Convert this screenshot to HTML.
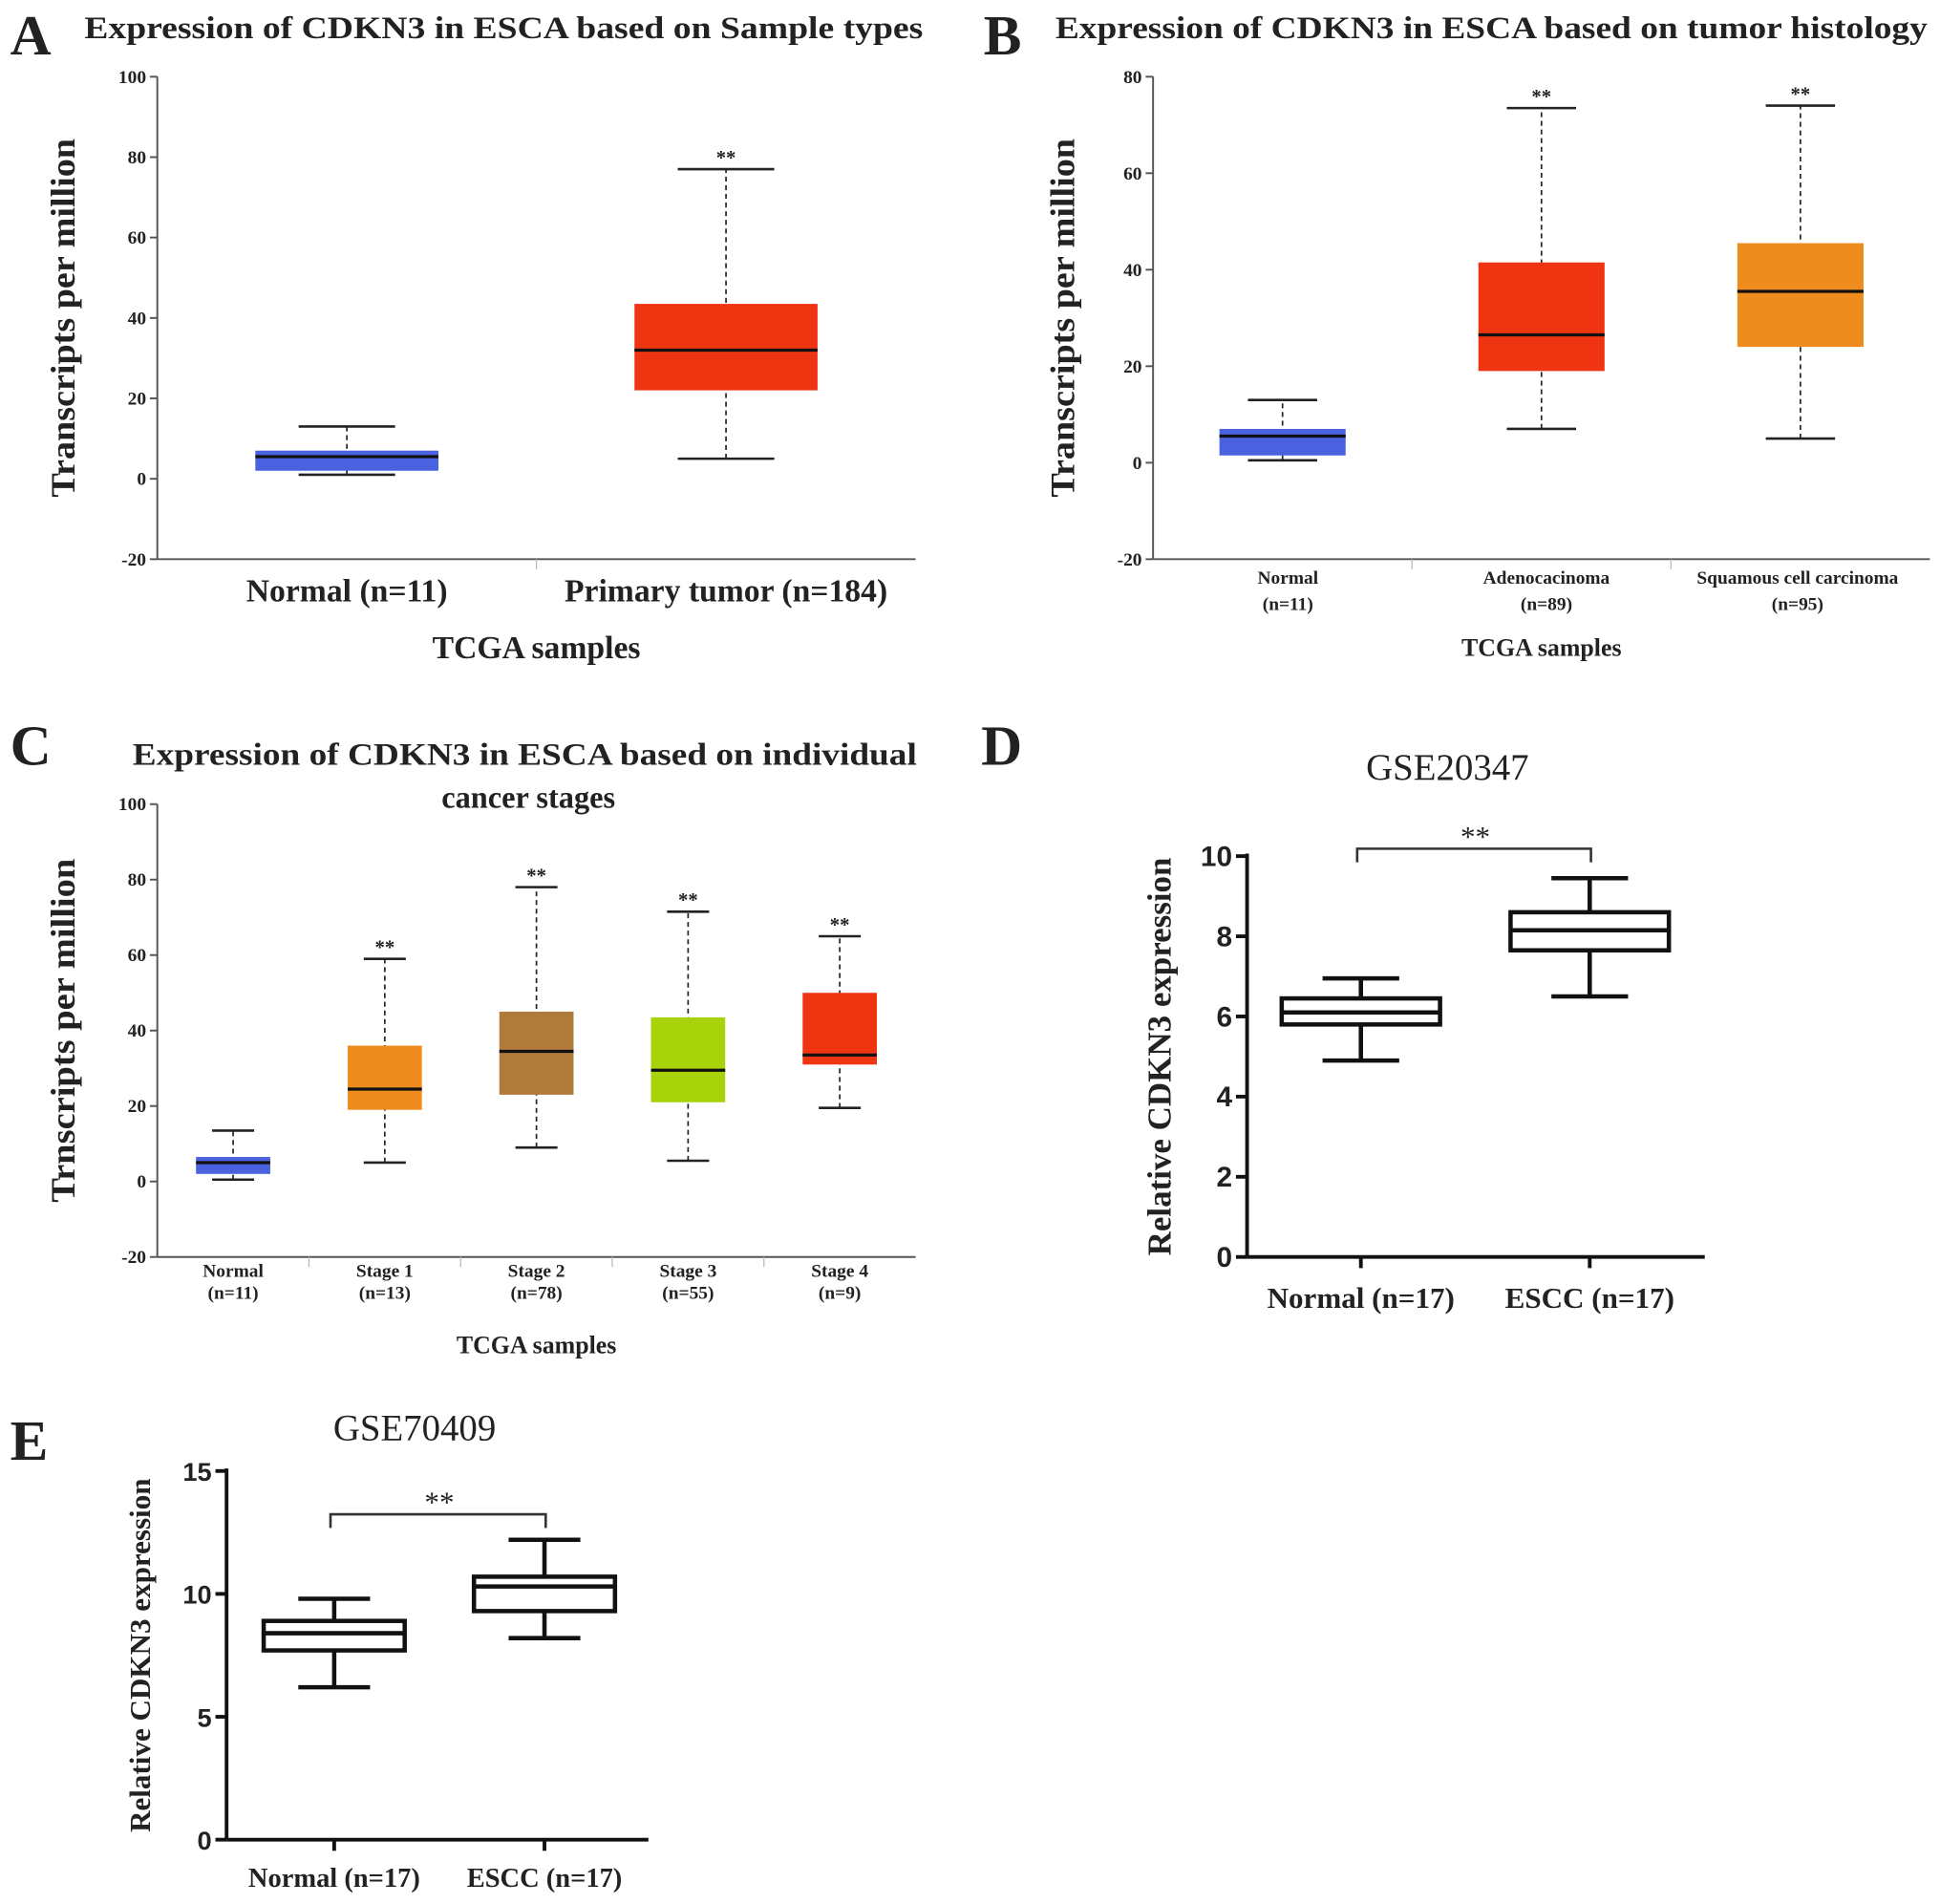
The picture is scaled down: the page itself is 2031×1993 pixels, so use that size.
<!DOCTYPE html>
<html><head><meta charset="utf-8"><title>CDKN3 expression</title>
<style>html,body{margin:0;padding:0;background:#fff}svg{display:block}
text{font-family:"Liberation Serif",serif;font-weight:bold;fill:#222}</style></head>
<body>
<svg id="fig" width="2031" height="1993" viewBox="0 0 1568 1539" xmlns="http://www.w3.org/2000/svg">
<text x="8" y="44" font-size="46">A</text>
<text x="68" y="31" font-size="25" textLength="678" lengthAdjust="spacingAndGlyphs">Expression of  CDKN3 in ESCA based on Sample types</text>
<text x="795" y="44" font-size="46">B</text>
<text x="853" y="31" font-size="25" textLength="705" lengthAdjust="spacingAndGlyphs">Expression of CDKN3 in ESCA based on tumor histology</text>
<text x="8" y="618" font-size="46">C</text>
<text x="107" y="618" font-size="25" textLength="634" lengthAdjust="spacingAndGlyphs">Expression of CDKN3 in ESCA based on individual</text>
<text x="427" y="653" font-size="25" text-anchor="middle">cancer stages</text>
<text x="793" y="618" font-size="46">D</text>
<text x="1170" y="630" font-size="30" text-anchor="middle" style="font-weight:normal" fill="#333">GSE20347</text>
<text x="8" y="1180" font-size="46">E</text>
<text x="335" y="1164" font-size="30" text-anchor="middle" style="font-weight:normal">GSE70409</text>
</svg>
<script>
// ---- data ----
const catsA = ["Normal (n=11)", "Primary tumor (n=184)"];
const statsA = [[1,2,5.5,7,13],[5,22,32,43.5,77]];
const colorsA = ["#4a62e0","#ef3412"];
const ticksA = [-20,0,20,40,60,80,100];

const catsB = [["Normal","(n=11)"],["Adenocacinoma","(n=89)"],["Squamous cell carcinoma","(n=95)"]];
const statsB = [[0.5,1.5,5.5,7,13],[7,19,26.5,41.5,73.5],[5,24,35.5,45.5,74]];
const colorsB = ["#4a62e0","#ef3412","#ee8c1e"];
const ticksB = [-20,0,20,40,60,80];

const catsC = [["Normal","(n=11)"],["Stage 1","(n=13)"],["Stage 2","(n=78)"],["Stage 3","(n=55)"],["Stage 4","(n=9)"]];
const statsC = [[0.5,2,5,6.5,13.5],[5,19,24.5,36,59],[9,23,34.5,45,78],[5.5,21,29.5,43.5,71.5],[19.5,31,33.5,50,65]];
const colorsC = ["#4a62e0","#ee8c1e","#b07a3a","#a8d20a","#ef3412"];
const ticksC = [-20,0,20,40,60,80,100];

const catsD = ["Normal (n=17)", "ESCC (n=17)"];
const statsD = [[4.9,5.8,6.1,6.45,6.95],[6.5,7.65,8.15,8.6,9.45]];
const ticksD = [0,2,4,6,8,10];

const catsE = ["Normal (n=17)", "ESCC (n=17)"];
const statsE = [[6.2,7.7,8.4,8.9,9.8],[8.2,9.3,10.3,10.7,12.2]];
const ticksE = [0,5,10,15];

const NS="http://www.w3.org/2000/svg";
const svg=document.getElementById('fig');
function el(tag,attrs,parent){const e=document.createElementNS(NS,tag);for(const k in attrs)e.setAttribute(k,attrs[k]);(parent||svg).appendChild(e);return e;}

function tcga(o){
  const g=el('g',{});
  
  
  const y=v=>o.y0+(v-o.min)/(o.max-o.min)*(o.y1-o.y0);
  const n=o.cats.length, bw=(o.x1-o.ax)/n;
  const cx=i=>o.ax+bw*(i+0.5)+(o.shift||0);
  el('line',{x1:o.ax,y1:o.y1,x2:o.ax,y2:o.y0,stroke:'#555','stroke-width':1.5},g);
  el('line',{x1:o.ax,y1:o.y0,x2:o.x1,y2:o.y0,stroke:'#555','stroke-width':1.5},g);
  o.ticks.forEach(t=>{
    el('line',{x1:o.ax-6,y1:y(t),x2:o.ax,y2:y(t),stroke:'#555','stroke-width':1.5},g);
    const tx=el('text',{x:o.ax-9,y:y(t)+5,'font-size':15,'text-anchor':'end'},g);tx.textContent=t;
    
    
  });
  for(let i=1;i<n;i++) el('line',{x1:o.ax+bw*i,y1:o.y0,x2:o.ax+bw*i,y2:o.y0+8,stroke:'#bbb'},g);
  o.stats.forEach((s,i)=>{
    const c=cx(i), hw=o.boxW/2, cw=o.capW/2;
    const bg=el('g',{},g);
    
    
    el('line',{x1:c,y1:y(s[0]),x2:c,y2:y(s[4]),stroke:'#222','stroke-width':1.3,'stroke-dasharray':'4,3'},bg);
    el('line',{x1:c-cw,y1:y(s[0]),x2:c+cw,y2:y(s[0]),stroke:'#222','stroke-width':2},bg);
    el('line',{x1:c-cw,y1:y(s[4]),x2:c+cw,y2:y(s[4]),stroke:'#222','stroke-width':2},bg);
    el('rect',{x:c-hw,y:y(s[3]),width:o.boxW,height:y(s[1])-y(s[3]),fill:o.colors[i]},bg);
    el('line',{x1:c-hw,y1:y(s[2]),x2:c+hw,y2:y(s[2]),stroke:'#111','stroke-width':2.5},bg);
    if(i>0){const st=el('text',{x:c,y:y(s[4])-4,'font-size':16,'text-anchor':'middle'},bg);st.textContent='**';
      
      }
    const lab=Array.isArray(o.cats[i])?o.cats[i]:[o.cats[i]];
    const lx=o.labX?o.labX[i]:c;
    lab.forEach((l,j)=>{const t=el('text',{x:lx,y:o.y0+o.labY+j*o.labLH,'font-size':o.labFS,'text-anchor':'middle'},g);t.textContent=l;
      
      });
  });
  const xt=el('text',{x:(o.ax+o.x1)/2,y:o.xtY,'font-size':o.xtFS,'text-anchor':'middle'},g);xt.textContent='TCGA samples';
  
  
  const ym=(o.y0+o.y1)/2;
  const yt=el('text',{x:o.ytX,y:ym,'font-size':28,'text-anchor':'middle',transform:`rotate(-90 ${o.ytX} ${ym})`,textLength:o.ytLen,lengthAdjust:'spacingAndGlyphs'},g);yt.textContent=o.ytitle;
  
  
}
tcga({name:'chart-a',cats:catsA,stats:statsA,colors:colorsA,ticks:ticksA,min:-20,max:100,ax:127,x1:740,y0:452,y1:62,boxW:148,capW:78,labY:34,labLH:0,labFS:26,xtY:532,xtFS:26,ytX:60,ytLen:290,ytitle:'Transcripts  per million'});
tcga({name:'chart-b',cats:catsB,stats:statsB,colors:colorsB,ticks:ticksB,min:-20,max:80,ax:932,x1:1560,y0:452,y1:62,boxW:102,capW:56,labY:20,labLH:21,labFS:15,labX:[1041,1250,1453],xtY:530,xtFS:20,ytX:868,ytLen:290,ytitle:'Transcripts  per million'});
tcga({name:'chart-c',cats:catsC,stats:statsC,colors:colorsC,ticks:ticksC,min:-20,max:100,ax:127,x1:740,y0:1016,y1:650,boxW:60,capW:34,labY:16,labLH:18,labFS:15,xtY:1094,xtFS:20,ytX:60,ytLen:278,ytitle:'Trnscripts  per million'});

function gp(o){
  const g=el('g',{});
  
  
  const y=v=>o.y0+(v-o.min)/(o.max-o.min)*(o.y1-o.y0);
  const cx=i=>o.c0+i*(o.c1-o.c0);
  el('line',{x1:o.ax,y1:o.y1-2,x2:o.ax,y2:o.y0,stroke:'#111','stroke-width':3},g);
  el('line',{x1:o.ax,y1:o.y0,x2:o.x1,y2:o.y0,stroke:'#111','stroke-width':3},g);
  o.ticks.forEach(t=>{
    el('line',{x1:o.ax-9,y1:y(t),x2:o.ax,y2:y(t),stroke:'#111','stroke-width':3},g);
    const tx=el('text',{x:o.ax-12,y:y(t)+8,'font-size':o.tfs,'text-anchor':'end',style:'font-family:"Liberation Sans",sans-serif'},g);tx.textContent=t;
    
    
  });
  o.stats.forEach((s,i)=>{
    const c=cx(i),hw=o.boxW/2,cw=o.capW/2;
    el('line',{x1:c,y1:o.y0,x2:c,y2:o.y0+9,stroke:'#111','stroke-width':3},g);
    const bg=el('g',{},g);
    
    
    el('line',{x1:c,y1:y(s[0]),x2:c,y2:y(s[1]),stroke:'#111','stroke-width':3.5},bg);
    el('line',{x1:c,y1:y(s[3]),x2:c,y2:y(s[4]),stroke:'#111','stroke-width':3.5},bg);
    el('line',{x1:c-cw,y1:y(s[0]),x2:c+cw,y2:y(s[0]),stroke:'#111','stroke-width':3.5},bg);
    el('line',{x1:c-cw,y1:y(s[4]),x2:c+cw,y2:y(s[4]),stroke:'#111','stroke-width':3.5},bg);
    el('rect',{x:c-hw,y:y(s[3]),width:o.boxW,height:y(s[1])-y(s[3]),fill:'none',stroke:'#111','stroke-width':3.5},bg);
    el('line',{x1:c-hw,y1:y(s[2]),x2:c+hw,y2:y(s[2]),stroke:'#111','stroke-width':3.5},bg);
    const t=el('text',{x:c,y:o.y0+o.labY,'font-size':o.lfs,'text-anchor':'middle'},g);t.textContent=o.cats[i];
    
    
  });
  const b=el('path',{d:`M${cx(0)-3} ${o.brY+11}V${o.brY}H${cx(1)+1}V${o.brY+11}`,fill:'none',stroke:'#333','stroke-width':2},g);
  
  
  const st=el('text',{x:(cx(0)+cx(1))/2,y:o.brY-2,'font-size':24,'text-anchor':'middle',style:'font-weight:normal'},g);st.textContent='**';
  
  
  const ym=(o.y0+o.y1)/2;
  const yt=el('text',{x:o.ytX,y:ym,'font-size':o.yfs,'text-anchor':'middle',transform:`rotate(-90 ${o.ytX} ${ym})`},g);yt.textContent='Relative CDKN3 expression';
  
  
}
gp({name:'chart-d',cats:catsD,stats:statsD,ticks:ticksD,min:0,max:10,ax:1008,x1:1378,y0:1016,y1:692,c0:1100,c1:1285,boxW:128,capW:62,tfs:23,lfs:24,labY:41,brY:686,ytX:946,yfs:27});
gp({name:'chart-e',cats:catsE,stats:statsE,ticks:ticksE,min:0,max:15,ax:183,x1:524,y0:1487,y1:1189,c0:270,c1:440,boxW:114,capW:58,tfs:21,lfs:22,labY:38,brY:1224,ytX:121,yfs:24});
</script>
</body></html>
